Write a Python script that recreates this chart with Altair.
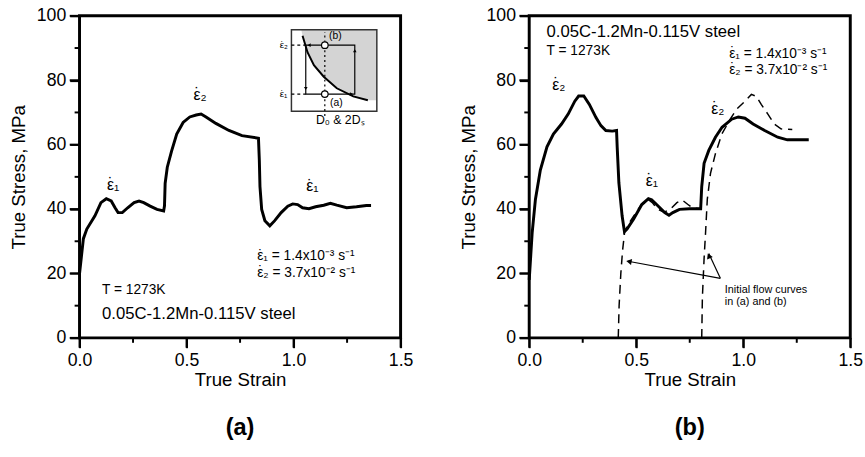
import altair as alt
import pandas as pd

FONT = "Liberation Sans"

# ---------------- data: panel (a) ----------------
a_strain = [0.0, 0.018, 0.034, 0.072, 0.10, 0.125, 0.148, 0.166, 0.18, 0.20, 0.225, 0.255, 0.278, 0.30,
            0.33, 0.362, 0.393, 0.397, 0.40, 0.41, 0.43, 0.454, 0.484, 0.515, 0.545, 0.568, 0.591, 0.637,
            0.698, 0.759, 0.836, 0.84, 0.843, 0.851, 0.866, 0.889, 0.912, 0.942, 0.973, 0.996, 1.019,
            1.042, 1.072, 1.103, 1.141, 1.172, 1.202, 1.248, 1.294, 1.34, 1.362]
a_stress = [20, 30.8, 33.8, 37.9, 42, 43.2, 42.5, 40.4, 38.9, 38.9, 40.4, 42, 42.5, 42,
            40.9, 39.9, 39.4, 41, 48, 53, 58, 63.3, 66.9, 68.6, 69.2, 69.5, 68.6, 66.6,
            64.4, 62.8, 62, 55.2, 47, 39.9, 36.4, 34.8, 36.4, 38.9, 40.9, 41.6, 41.4,
            40.4, 40.1, 40.7, 41.2, 41.8, 41.2, 40.4, 40.7, 41.1, 41.1]

# ---------------- data: panel (b) ----------------
b_strain = [0.0, 0.014, 0.029, 0.052, 0.083, 0.113, 0.151, 0.182, 0.213, 0.231, 0.255, 0.281, 0.312,
            0.335, 0.358, 0.388, 0.408, 0.411, 0.419, 0.434, 0.445, 0.457, 0.488, 0.526, 0.557, 0.572,
            0.595, 0.633, 0.653, 0.671, 0.702, 0.748, 0.801, 0.806, 0.817, 0.839, 0.87, 0.901, 0.946,
            0.977, 1.008, 1.046, 1.1, 1.161, 1.206, 1.252, 1.306]
b_stress = [18, 32.8, 43, 52.1, 59.3, 63.3, 66.4, 69.5, 73.5, 75.1, 75.1, 72.5, 68.4,
            65.9, 64.4, 64.2, 64.4, 59.3, 48.1, 37.9, 33, 33.8, 36.9, 41.4, 43.2, 42.9,
            41.4, 38.9, 38.1, 38.9, 39.9, 40.1, 40.1, 47, 54.2, 58.2, 62.3, 65.4, 67.9,
            68.6, 68.2, 66.4, 64.4, 62.3, 61.5, 61.5, 61.5]

dash1_strain = [0.416, 0.42, 0.428, 0.436, 0.446, 0.46, 0.49, 0.525, 0.555, 0.575, 0.60, 0.63,
                0.66, 0.69, 0.715, 0.74, 0.765, 0.80]
dash1_stress = [0, 10, 20, 27, 33, 35, 38, 41.5, 43, 42, 40, 39, 40, 42, 42.8, 41.5, 40.3, 40.1]

dash2_strain = [0.806, 0.809, 0.817, 0.824, 0.832, 0.847, 0.87, 0.9, 0.939, 0.969, 1.008, 1.038,
                1.061, 1.084, 1.115, 1.145, 1.176, 1.229]
dash2_stress = [0, 12.4, 24.6, 32.8, 43, 51.1, 57.2, 63.3, 67.9, 71, 73.5, 75.6, 75, 72.5, 69.5,
                66.4, 64.9, 64.7]

# ---------------- inset schematic (panel a) ----------------
inset_box_x = [0.99, 1.389]
inset_box_y = [70.4, 95.7]
inset_curve_x = [1.036, 1.042, 1.065, 1.095, 1.141, 1.202, 1.279, 1.347]
inset_curve_y = [95.7, 93.8, 88.7, 84.7, 81.1, 77.5, 75.0, 73.8]
rate_hi, rate_lo = 90.9, 75.7
loop_x = [1.057, 1.057, 1.286, 1.286, 1.057]
loop_y = [rate_hi, rate_lo, rate_lo, rate_hi, rate_hi]
probe_x = 1.146
head_x = [1.075, 1.057, 1.268, 1.286]
head_y = [rate_hi, 77.6, rate_lo, 89.0]
head_angle = [270, 180, 90, 0]

# ---------------- annotation texts ----------------
EPS = "\u03b5"
DOT = "\u02d9"
E1 = EPS + "\u2081"
E2 = EPS + "\u2082"
RATE1 = E1 + " = 1.4x10\u207b\u00b3 s\u207b\u00b9"
RATE2 = E2 + " = 3.7x10\u207b\u00b2 s\u207b\u00b9"

# ---------------- axes ----------------
x_major = [0, 0.5, 1.0, 1.5]
x_minor = [0.25, 0.75, 1.25]
y_major = [0, 20, 40, 60, 80, 100]
y_minor = [10, 30, 50, 70, 90]

W, H = 327, 328


def X(field="x"):
    return alt.X(f"{field}:Q", scale=alt.Scale(domain=[0, 1.5], nice=False, zero=False),
                 axis=alt.Axis(values=x_major, title="True Strain", grid=False, ticks=True,
                               tickSize=10, tickWidth=2, tickColor="black", format=".1f",
                               labelFlush=False, labelPadding=4, titlePadding=2))


def Y(field="y"):
    return alt.Y(f"{field}:Q", scale=alt.Scale(domain=[0, 100], nice=False),
                 axis=alt.Axis(values=y_major, title="True Stress, MPa", grid=False, ticks=True,
                               tickSize=10, tickWidth=2, tickColor="black",
                               labelFlush=False, labelPadding=4, titlePadding=8))


def tick_layers():
    layers = []
    for vals, length in ((x_major, 10), (x_minor, 5)):
        df = pd.DataFrame({"x": vals})
        layers.append(alt.Chart(df).mark_rule(color="black", strokeWidth=2, clip=False).encode(
            x=X(), y=alt.value(H), y2=alt.value(H + length)))
    for vals, length in ((y_major, 10), (y_minor, 5)):
        df = pd.DataFrame({"y": vals})
        layers.append(alt.Chart(df).mark_rule(color="black", strokeWidth=2, clip=False).encode(
            y=Y(), x=alt.value(0), x2=alt.value(-length)))
    return layers


def curve(xs, ys, dash=None, width=3):
    df = pd.DataFrame({"x": xs, "y": ys, "i": range(len(xs))})
    kw = dict(color="black", strokeWidth=width)
    if dash:
        kw["strokeDash"] = dash
    return alt.Chart(df).mark_line(**kw).encode(x=X(), y=Y(), order="i:Q")


def texts(xs, ys, labels, size, align="left", weight="normal", dx=0, dy=0):
    df = pd.DataFrame({"x": xs, "y": ys, "t": labels})
    return alt.Chart(df).mark_text(align=align, baseline="middle", fontSize=size, font=FONT,
                                   color="black", fontWeight=weight, dx=dx, dy=dy).encode(
        x=X(), y=Y(), text="t:N")


def eps_texts(xs, ys, labels, size):
    """Left-aligned labels that begin with epsilon; a dot is added over the epsilon."""
    return alt.layer(
        texts(xs, ys, labels, size),
        texts(xs, ys, [DOT] * len(xs), size, align="center", dx=0.24 * size, dy=-0.05 * size),
    )


def heads(xs, ys, angles, size):
    df = pd.DataFrame({"x": xs, "y": ys, "a": angles})
    return alt.Chart(df).mark_point(shape="triangle", filled=True, color="black", size=size,
                                    opacity=1).encode(x=X(), y=Y(), angle=alt.Angle("a:Q", scale=None))


# ---- panel (a) ----
box_df = pd.DataFrame({"x": [inset_box_x[0]], "x2": [inset_box_x[1]],
                       "y": [inset_box_y[0]], "y2": [inset_box_y[1]]})
box_fill = alt.Chart(box_df).mark_rect(fill="white").encode(x=X(), x2="x2", y=Y(), y2="y2")
box_line = alt.Chart(box_df).mark_rect(fill=None, stroke="#333", strokeWidth=1.5).encode(
    x=X(), x2="x2", y=Y(), y2="y2")
shade_df = pd.DataFrame({"x": inset_curve_x, "x2": [inset_box_x[1]] * len(inset_curve_x),
                         "y": inset_curve_y})
shade = alt.Chart(shade_df).mark_area(orient="horizontal", color="#d4d4d4").encode(
    y=Y(), x=X(), x2="x2")
inset_curve = curve(inset_curve_x[1:], inset_curve_y[1:], width=2)
loop = curve(loop_x, loop_y, width=1.2)
lvl = pd.DataFrame({"x": [inset_box_x[0], inset_box_x[0]], "x2": [1.057, 1.057],
                    "y": [rate_hi, rate_lo]})
lvl_lines = alt.Chart(lvl).mark_rule(color="black", strokeWidth=1.2, strokeDash=[3, 3]).encode(
    x=X(), x2="x2", y=Y())
probe = alt.Chart(pd.DataFrame({"x": [probe_x], "y": [68.9], "y2": [95.0]})).mark_rule(
    color="black", strokeWidth=1.2, strokeDash=[2, 3]).encode(x=X(), y=Y(), y2="y2")
circles = alt.Chart(pd.DataFrame({"x": [probe_x, probe_x], "y": [rate_hi, rate_lo]})).mark_point(
    shape="circle", filled=True, fill="white", stroke="black", strokeWidth=1.2, size=45, opacity=1
).encode(x=X(), y=Y())
inset_heads = heads(head_x, head_y, head_angle, 14)
inset_txt = eps_texts([0.935, 0.935], [rate_hi, rate_lo], [E2, E1], 10)
inset_txt2 = texts([1.195, 1.2], [93.8, 73.0], ["(b)", "(a)"], 10.5, align="center")
inset_txt3 = texts([1.218], [67.6], ["D\u2080 & 2D\u209b"], 12.5, align="center")

a_labels = eps_texts([0.128, 0.532, 1.059], [47.5, 75.5, 47.0], [E1, E2, E1], 16)
a_info = texts([0.105], [14.9], ["T = 1273K"], 14)
a_rates = eps_texts([0.83, 0.83], [25.3, 20.1], [RATE1, RATE2], 14)
a_steel = texts([0.105], [7.3], ["0.05C-1.2Mn-0.115V steel"], 17)

panel_a = alt.layer(
    curve(a_strain, a_stress), *tick_layers(),
    box_fill, shade, box_line, inset_curve, loop, lvl_lines, probe, circles, inset_heads,
    inset_txt, inset_txt2, inset_txt3, a_labels, a_info, a_rates, a_steel,
).properties(width=W, height=H,
             title=alt.TitleParams("(a)", orient="bottom", fontSize=24, fontWeight="bold",
                                   font=FONT, offset=27, color="black"))

# ---- panel (b) ----
arrow_df = pd.DataFrame({"x": [0.893, 0.893], "x2": [0.462, 0.839], "y": [18.5, 18.5], "y2": [23.8, 26.2]})
arrows = alt.Chart(arrow_df).mark_rule(color="black", strokeWidth=1.2).encode(
    x=X(), x2="x2", y=Y(), y2="y2")
arrow_heads = heads([0.47, 0.841], [23.65, 25.2], [280, 336], 40)
b_labels = eps_texts([0.108, 0.544, 0.85], [78.5, 48.6, 71.0], [E2, E1, E2], 16)
b_info = texts([0.081], [89.2], ["T = 1273K"], 14)
b_rates = eps_texts([0.934, 0.934], [88.2, 83.1], [RATE1, RATE2], 14)
b_steel = texts([0.081], [94.8], ["0.05C-1.2Mn-0.115V steel"], 17)
b_note = texts([0.914, 0.914], [14.7, 11.0], ["Initial flow curves", "in (a) and (b)"], 11)

panel_b = alt.layer(
    curve(dash1_strain, dash1_stress, dash=[9, 6], width=1.5),
    curve(dash2_strain, dash2_stress, dash=[9, 6], width=1.5),
    curve(b_strain, b_stress), *tick_layers(),
    arrows, arrow_heads, b_labels, b_info, b_rates, b_steel, b_note,
).properties(width=W, height=H,
             title=alt.TitleParams("(b)", orient="bottom", fontSize=24, fontWeight="bold",
                                   font=FONT, offset=27, color="black"))

chart = alt.hconcat(panel_a, panel_b, spacing=43).properties(
    padding={"left": 8, "top": 1, "right": 0, "bottom": 0}, background="white"
).configure_view(stroke="black", strokeWidth=3).configure_axis(
    labelFont=FONT, titleFont=FONT, labelFontSize=18, titleFontSize=19, titleFontWeight="normal",
    labelColor="black", titleColor="black", domain=False
)

chart.save("out.html", embed_options={"renderer": "svg", "actions": False})
